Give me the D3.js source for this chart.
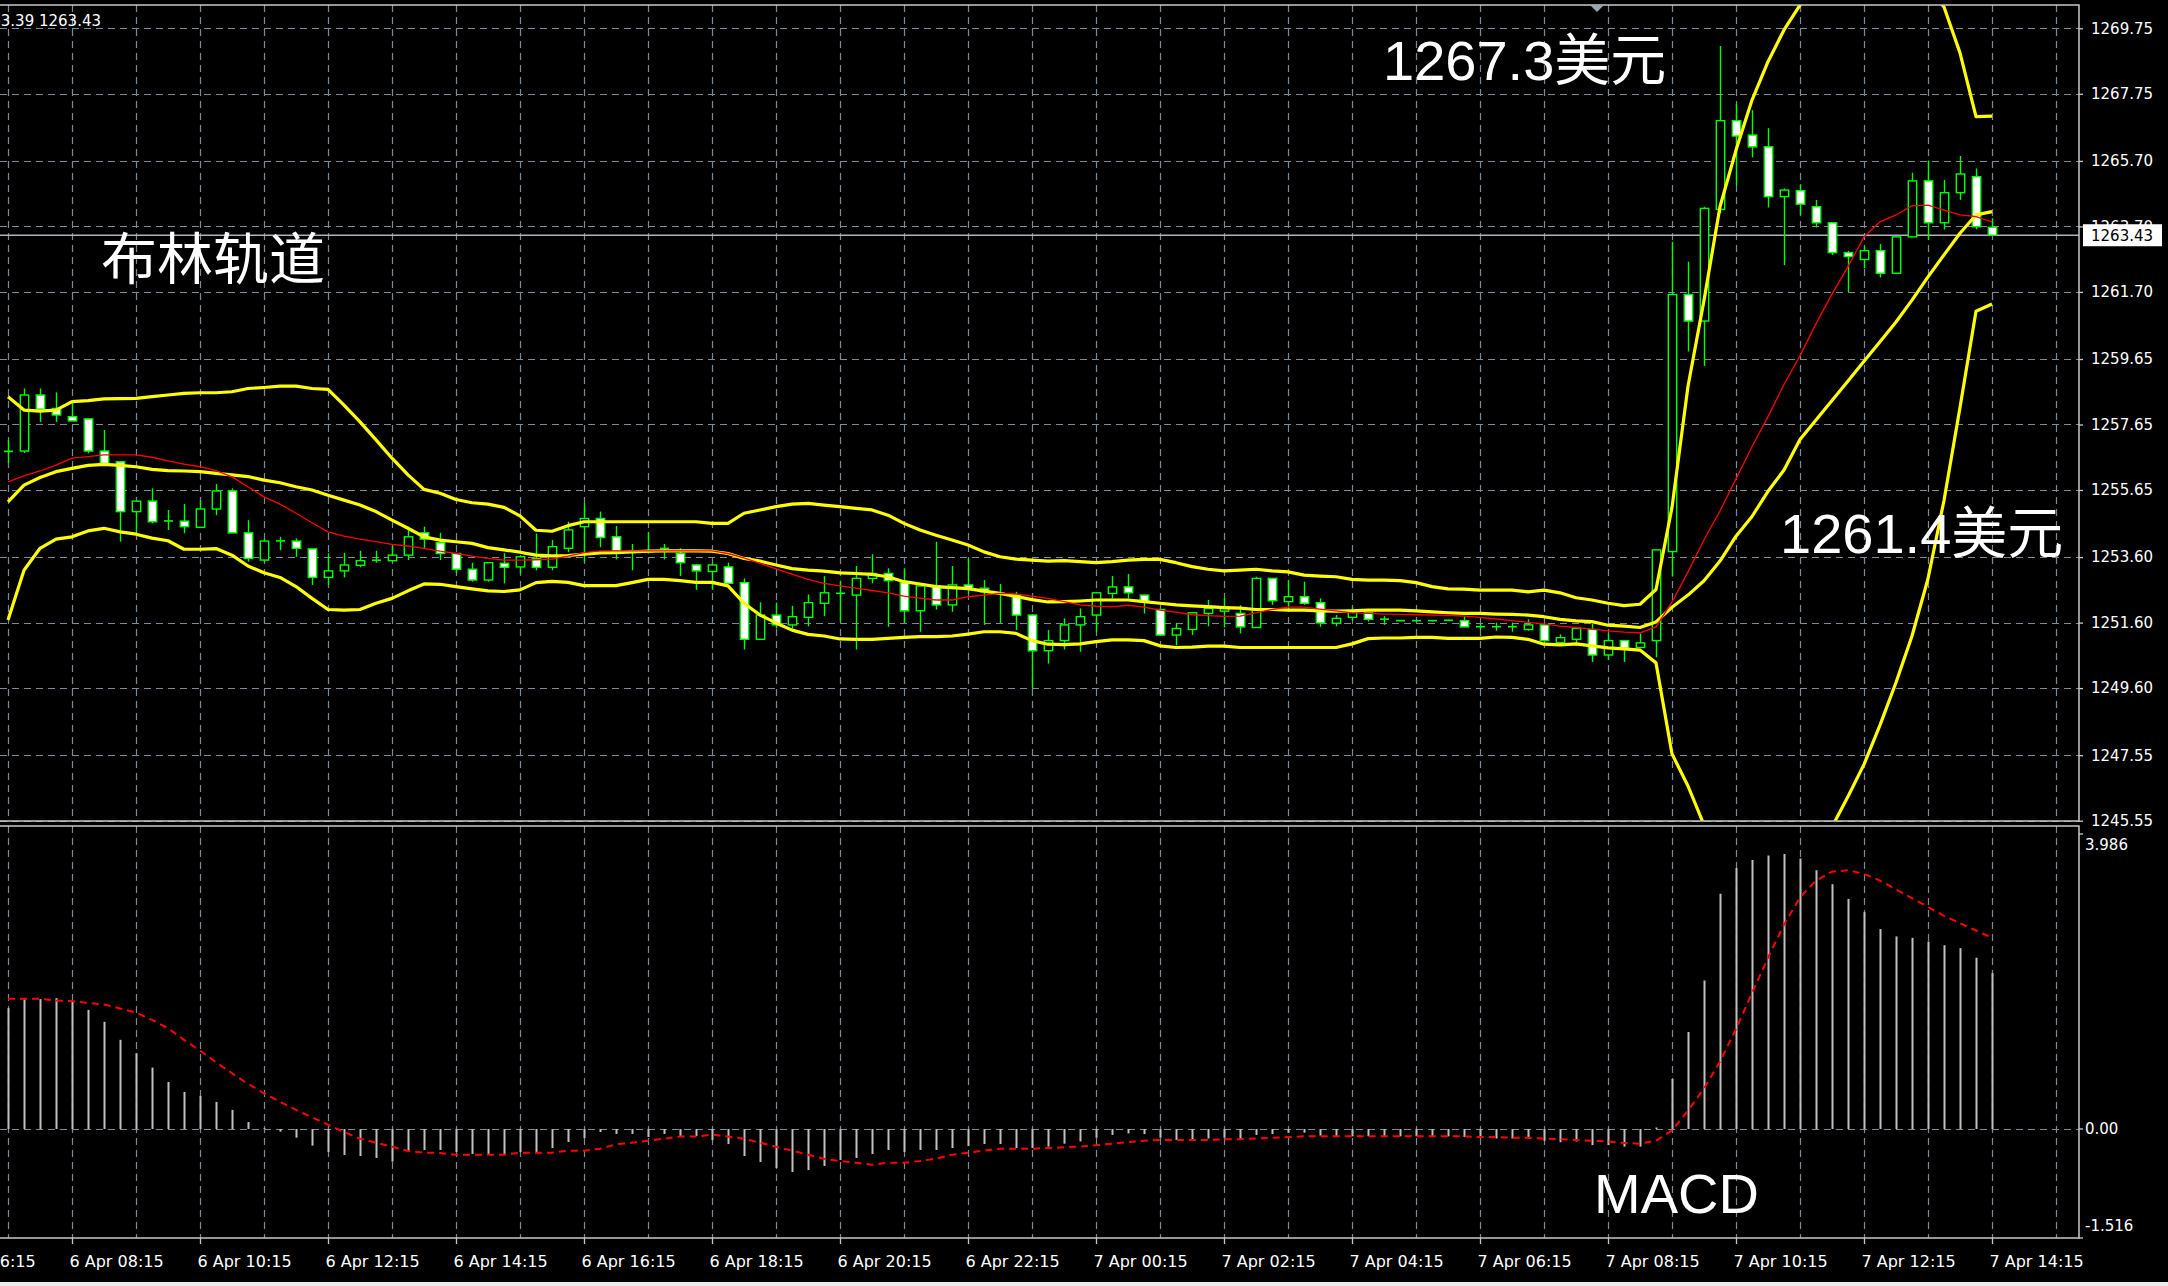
<!DOCTYPE html>
<html><head><meta charset="utf-8">
<script src="https://cdn.jsdelivr.net/npm/d3@7"></script>
<style>html,body{margin:0;padding:0;background:#000;overflow:hidden}</style>
</head><body>
<svg id="c" width="2168" height="1286"></svg>
<script>
// ---------------- DATA (XAUUSD M15, 6 Apr 07:15 .. 7 Apr 14:15) ----------------
const openP = [
1256.82,1256.84,1258.55,1258.14,1257.89,1257.82,1256.84,1256.51,1254.99,1255.31,
1254.70,1254.70,1254.51,1255.07,1255.62,1254.34,1253.51,1254.09,1254.09,1253.85,
1252.98,1253.18,1253.35,1253.50,1253.49,1253.66,1254.34,1254.04,1253.71,1253.23,
1252.90,1253.41,1253.30,1253.56,1253.29,1253.87,1254.53,1254.78,1254.22,1253.79,
1253.76,1253.85,1253.71,1253.36,1253.16,1253.30,1252.82,1251.09,1251.83,1251.53,
1251.76,1252.19,1252.49,1252.44,1252.95,1253.10,1252.82,1251.96,1252.72,1252.14,
1252.75,1252.65,1252.49,1252.44,1251.83,1250.74,1251.05,1251.53,1251.83,1252.49,
1252.69,1252.44,1252.00,1251.22,1251.39,1251.88,1251.95,1251.88,1251.45,1252.95,
1252.24,1252.39,1252.21,1251.58,1251.76,1251.90,1251.70,1251.66,1251.66,1251.66,
1251.67,1251.66,1251.47,1251.47,1251.47,1251.39,1251.53,1250.99,1251.09,1251.39,
1250.61,1251.05,1250.84,1251.05,1253.77,1261.62,1260.81,1264.22,1266.93,1266.49,
1266.13,1264.61,1264.79,1264.30,1263.81,1262.90,1262.69,1262.96,1262.27,1263.38,
1265.09,1263.81,1264.73,1265.22,1263.67];
const highP = [
1257.18,1258.75,1258.75,1258.63,1258.30,1257.82,1257.48,1256.51,1255.31,1255.70,
1255.04,1255.22,1255.34,1255.83,1255.70,1254.73,1254.15,1254.22,1254.17,1253.85,
1253.72,1253.73,1253.79,1253.79,1253.94,1254.53,1254.53,1254.34,1253.71,1253.43,
1253.43,1253.72,1253.66,1254.32,1254.12,1254.68,1255.24,1254.99,1254.55,1254.00,
1254.37,1254.00,1253.87,1253.39,1253.41,1253.43,1252.95,1252.22,1252.21,1252.11,
1252.46,1253.02,1252.88,1253.33,1253.69,1253.26,1253.26,1252.72,1254.07,1253.33,
1253.56,1252.90,1252.78,1252.54,1251.86,1251.37,1251.73,1252.03,1252.54,1253.02,
1253.08,1252.44,1252.00,1251.59,1251.90,1252.29,1252.35,1252.13,1253.00,1252.95,
1252.90,1252.85,1252.34,1251.83,1252.07,1251.90,1251.80,1251.68,1251.68,1251.68,
1251.69,1251.78,1251.58,1251.60,1251.60,1251.70,1251.56,1251.24,1251.45,1251.56,
1251.27,1251.05,1251.27,1253.82,1263.23,1262.62,1264.30,1269.21,1267.44,1267.25,
1266.70,1264.86,1264.99,1264.51,1263.81,1262.95,1263.08,1263.16,1263.38,1265.34,
1265.71,1265.12,1265.85,1265.47,1263.95];
const lowP = [
1256.47,1256.78,1257.73,1257.73,1257.76,1256.77,1256.46,1254.07,1254.33,1254.63,
1254.43,1254.33,1254.51,1254.88,1254.34,1253.46,1253.46,1253.81,1253.61,1252.75,
1252.75,1252.98,1253.29,1253.43,1253.49,1253.51,1253.87,1253.51,1253.10,1252.85,
1252.85,1252.80,1253.10,1253.20,1253.20,1253.76,1253.46,1253.90,1253.53,1253.20,
1253.71,1253.53,1253.02,1252.60,1252.60,1252.80,1250.78,1251.09,1251.42,1251.42,
1251.49,1251.80,1251.63,1250.78,1252.80,1251.47,1251.59,1251.32,1252.00,1251.93,
1252.49,1251.53,1251.59,1251.37,1249.59,1250.35,1250.78,1250.71,1251.32,1252.34,
1252.34,1251.88,1251.22,1250.90,1251.22,1251.49,1251.45,1251.27,1251.45,1252.14,
1252.11,1252.14,1251.47,1251.49,1251.66,1251.63,1251.53,1251.64,1251.64,1251.64,
1251.65,1251.47,1251.37,1251.35,1251.32,1251.35,1251.05,1250.94,1250.90,1250.40,
1250.46,1250.40,1250.82,1250.54,1253.01,1259.88,1259.44,1264.10,1264.96,1265.81,
1264.28,1262.52,1264.05,1263.67,1262.83,1261.70,1262.42,1262.14,1262.27,1263.38,
1263.30,1263.61,1264.51,1263.61,1263.41];
const closeP = [
1256.84,1258.55,1258.12,1257.94,1257.76,1256.84,1256.46,1254.99,1255.31,1254.68,
1254.71,1254.53,1255.07,1255.62,1254.34,1253.56,1254.09,1254.10,1253.87,1252.98,
1253.18,1253.36,1253.49,1253.51,1253.66,1254.22,1254.15,1253.71,1253.23,1252.90,
1253.43,1253.29,1253.61,1253.29,1253.92,1254.43,1254.78,1254.20,1253.79,1253.80,
1253.77,1253.88,1253.43,1253.18,1253.36,1252.80,1251.09,1251.83,1251.53,1251.78,
1252.21,1252.51,1252.50,1252.95,1253.10,1252.88,1251.96,1252.72,1252.14,1252.75,
1252.62,1252.54,1252.50,1251.83,1250.74,1251.05,1251.53,1251.78,1252.51,1252.69,
1252.51,1252.24,1251.22,1251.42,1251.90,1252.03,1252.03,1251.47,1252.95,1252.27,
1252.39,1252.19,1251.59,1251.73,1251.93,1251.70,1251.71,1251.66,1251.66,1251.66,
1251.67,1251.47,1251.48,1251.48,1251.48,1251.53,1251.05,1251.14,1251.42,1250.61,
1251.05,1250.82,1250.98,1253.82,1261.62,1260.81,1264.25,1266.93,1266.46,1266.13,
1264.61,1264.81,1264.38,1263.81,1262.90,1262.78,1262.96,1262.27,1263.38,1265.09,
1263.81,1264.73,1265.30,1263.69,1263.43];

const bbUpper = [
1258.50,1258.09,1258.06,1258.09,1258.35,1258.38,1258.43,1258.44,1258.45,1258.50,
1258.55,1258.60,1258.62,1258.62,1258.65,1258.75,1258.78,1258.82,1258.82,1258.75,
1258.72,1258.24,1257.73,1257.18,1256.62,1256.11,1255.67,1255.55,1255.36,1255.26,
1255.22,1255.12,1254.86,1254.42,1254.39,1254.56,1254.68,1254.68,1254.68,1254.68,
1254.68,1254.68,1254.68,1254.68,1254.63,1254.63,1254.94,1255.04,1255.14,1255.22,
1255.24,1255.19,1255.14,1255.09,1255.04,1254.88,1254.63,1254.43,1254.27,1254.12,
1253.97,1253.76,1253.61,1253.54,1253.51,1253.48,1253.49,1253.46,1253.43,1253.46,
1253.51,1253.53,1253.53,1253.43,1253.31,1253.23,1253.18,1253.20,1253.23,1253.18,
1253.15,1253.05,1253.02,1253.00,1252.92,1252.90,1252.90,1252.88,1252.82,1252.70,
1252.63,1252.62,1252.59,1252.59,1252.59,1252.54,1252.59,1252.51,1252.36,1252.29,
1252.19,1252.12,1252.16,1252.61,1255.12,1258.82,1261.44,1264.30,1266.03,1267.56,
1268.73,1269.70,1270.46,1271.10,1271.60,1272.00,1272.20,1272.20,1272.00,1271.60,
1271.00,1270.40,1269.00,1267.05,1267.07];
const bbMiddle = [
1255.29,1255.80,1256.03,1256.21,1256.31,1256.40,1256.43,1256.40,1256.36,1256.28,
1256.24,1256.23,1256.21,1256.16,1256.11,1256.06,1255.95,1255.87,1255.75,1255.65,
1255.49,1255.34,1255.19,1254.99,1254.73,1254.48,1254.22,1254.12,1254.07,1254.02,
1253.89,1253.82,1253.75,1253.66,1253.64,1253.65,1253.69,1253.73,1253.74,1253.76,
1253.78,1253.79,1253.79,1253.79,1253.78,1253.71,1253.56,1253.48,1253.36,1253.25,
1253.20,1253.17,1253.12,1253.10,1253.07,1253.00,1252.85,1252.78,1252.70,1252.67,
1252.64,1252.56,1252.49,1252.40,1252.30,1252.23,1252.24,1252.26,1252.29,1252.29,
1252.29,1252.24,1252.19,1252.14,1252.11,1252.09,1252.06,1252.04,1252.00,1252.00,
1251.98,1251.98,1251.96,1251.95,1251.96,1251.98,1251.98,1251.98,1251.96,1251.93,
1251.90,1251.88,1251.88,1251.86,1251.85,1251.83,1251.78,1251.70,1251.65,1251.63,
1251.52,1251.49,1251.45,1251.62,1252.07,1252.44,1252.88,1253.48,1254.24,1254.84,
1255.61,1256.26,1257.19,1257.79,1258.38,1258.98,1259.58,1260.18,1260.78,1261.45,
1262.16,1262.83,1263.49,1264.05,1264.15];
const bbLower = [
1251.68,1253.20,1253.87,1254.15,1254.22,1254.40,1254.48,1254.37,1254.30,1254.18,
1254.10,1253.84,1253.84,1253.86,1253.66,1253.33,1253.12,1252.98,1252.70,1252.34,
1252.00,1251.98,1252.00,1252.19,1252.34,1252.57,1252.78,1252.77,1252.70,1252.63,
1252.57,1252.55,1252.60,1252.82,1252.86,1252.83,1252.73,1252.73,1252.73,1252.82,
1252.92,1252.92,1252.88,1252.83,1252.83,1252.72,1252.19,1251.83,1251.59,1251.37,
1251.24,1251.19,1251.10,1251.09,1251.09,1251.12,1251.15,1251.17,1251.17,1251.19,
1251.25,1251.32,1251.32,1251.27,1251.05,1250.94,1250.93,1250.95,1251.02,1251.07,
1251.07,1251.05,1250.89,1250.84,1250.85,1250.88,1250.88,1250.84,1250.84,1250.84,
1250.84,1250.84,1250.84,1250.84,1250.95,1251.11,1251.13,1251.13,1251.15,1251.15,
1251.12,1251.12,1251.12,1251.16,1251.15,1251.09,1250.94,1250.92,1250.95,1250.89,
1250.83,1250.80,1250.76,1250.37,1247.59,1246.61,1245.42,1244.50,1243.80,1243.30,
1243.00,1243.00,1243.30,1244.20,1245.36,1246.29,1247.27,1248.47,1249.77,1251.19,
1252.94,1255.33,1258.17,1261.11,1261.33];
const maRed = [
1255.90,1256.08,1256.23,1256.41,1256.62,1256.67,1256.72,1256.72,1256.72,1256.65,
1256.54,1256.44,1256.36,1256.24,1256.05,1255.75,1255.44,1255.22,1254.94,1254.65,
1254.37,1254.24,1254.15,1254.07,1253.99,1253.94,1253.87,1253.78,1253.71,1253.63,
1253.56,1253.51,1253.51,1253.52,1253.54,1253.63,1253.74,1253.79,1253.79,1253.79,
1253.79,1253.79,1253.79,1253.79,1253.79,1253.71,1253.58,1253.41,1253.24,1253.08,
1252.92,1252.80,1252.72,1252.65,1252.58,1252.51,1252.41,1252.35,1252.29,1252.29,
1252.39,1252.44,1252.49,1252.48,1252.41,1252.34,1252.24,1252.14,1252.10,1252.08,
1252.13,1252.07,1251.98,1251.92,1251.84,1251.81,1251.79,1251.80,1251.90,1252.00,
1252.07,1252.07,1252.01,1251.96,1251.90,1251.88,1251.86,1251.85,1251.84,1251.83,
1251.82,1251.80,1251.76,1251.71,1251.66,1251.61,1251.56,1251.49,1251.45,1251.40,
1251.35,1251.31,1251.29,1251.47,1252.23,1253.15,1254.13,1255.01,1255.99,1256.97,
1257.89,1258.87,1259.75,1260.73,1261.63,1262.47,1263.38,1263.84,1264.05,1264.33,
1264.35,1264.20,1264.05,1264.00,1263.84];

const macdHist = [
1.644,1.767,1.767,1.780,1.735,1.620,1.458,1.213,1.031,0.835,
0.640,0.504,0.450,0.368,0.259,0.095,0.010,-0.036,-0.118,-0.227,
-0.313,-0.354,-0.368,-0.395,-0.445,-0.295,-0.286,-0.286,-0.313,-0.340,
-0.340,-0.340,-0.313,-0.313,-0.259,-0.177,-0.123,-0.041,-0.068,-0.068,
-0.109,-0.068,-0.095,-0.095,-0.150,-0.204,-0.368,-0.450,-0.531,-0.586,
-0.559,-0.504,-0.422,-0.395,-0.340,-0.286,-0.313,-0.286,-0.286,-0.259,
-0.232,-0.204,-0.204,-0.259,-0.259,-0.240,-0.200,-0.170,-0.120,-0.080,
-0.060,-0.070,-0.120,-0.150,-0.150,-0.130,-0.120,-0.140,-0.080,-0.070,
-0.050,-0.050,-0.090,-0.100,-0.100,-0.100,-0.100,-0.100,-0.100,-0.100,
-0.100,-0.110,-0.120,-0.130,-0.130,-0.130,-0.160,-0.180,-0.170,-0.220,
-0.220,-0.240,-0.240,0.020,0.680,1.320,2.020,3.200,3.550,3.660,
3.720,3.740,3.680,3.520,3.330,3.130,2.950,2.720,2.620,2.600,
2.550,2.500,2.460,2.330,2.120];
const macdSignal = [
1.771,1.771,1.771,1.748,1.740,1.717,1.694,1.640,1.585,1.485,
1.372,1.213,1.067,0.908,0.758,0.613,0.486,0.372,0.259,0.159,
0.059,-0.041,-0.132,-0.186,-0.241,-0.300,-0.322,-0.327,-0.350,-0.350,
-0.350,-0.350,-0.322,-0.322,-0.322,-0.295,-0.295,-0.268,-0.209,-0.186,
-0.159,-0.132,-0.104,-0.104,-0.077,-0.104,-0.132,-0.186,-0.241,-0.295,
-0.350,-0.404,-0.436,-0.459,-0.486,-0.459,-0.459,-0.436,-0.404,-0.350,
-0.322,-0.295,-0.268,-0.268,-0.268,-0.260,-0.250,-0.240,-0.220,-0.200,
-0.180,-0.160,-0.150,-0.150,-0.150,-0.150,-0.140,-0.140,-0.130,-0.120,
-0.110,-0.100,-0.100,-0.100,-0.100,-0.100,-0.100,-0.100,-0.100,-0.100,
-0.100,-0.100,-0.110,-0.110,-0.120,-0.120,-0.130,-0.140,-0.150,-0.160,
-0.170,-0.190,-0.200,-0.160,-0.020,0.250,0.550,0.920,1.360,1.850,
2.330,2.780,3.150,3.380,3.500,3.520,3.470,3.380,3.260,3.140,
3.020,2.900,2.800,2.700,2.600];

const priceTickLabels = ["1269.75","1267.75","1265.70","1263.70","1261.70","1259.65","1257.65",
  "1255.65","1253.60","1251.60","1249.60","1247.55","1245.55"];
const macdTickLabels = ["3.986","0.00","-1.516"];
const macdTickValues = [3.986, 0, -1.516];
const timeTickIndex = [-4,4,12,20,28,36,44,52,60,68,76,84,92,100,108,116,124];
const timeTickLabels = ["6 Apr 06:15","6 Apr 08:15","6 Apr 10:15","6 Apr 12:15","6 Apr 14:15",
  "6 Apr 16:15","6 Apr 18:15","6 Apr 20:15","6 Apr 22:15","7 Apr 00:15","7 Apr 02:15",
  "7 Apr 04:15","7 Apr 06:15","7 Apr 08:15","7 Apr 10:15","7 Apr 12:15","7 Apr 14:15"];
const lastBid = 1263.43;
const headerText = "1263.39 1263.43";
const notes = [
  {text:"1267.3美元", px:1383, py:80},
  {text:"布林轨道", px:101, py:279},
  {text:"1261.4美元", px:1780, py:553},
  {text:"MACD", px:1594, py:1213}
];

// ---------------- DRAW ----------------
const W=2168,H=1286;
const plotR=2079, pTop=5, pBot=821, mTop=826, mBot=1238;
const svg=d3.select('#c');
svg.append('rect').attr('width',W).attr('height',H).attr('fill','#000');

const N = closeP.length;
const x = d3.scaleLinear().domain([0,124]).range([8,1992]);
const y = d3.scaleLinear().domain([1245.55,1269.75]).range([820.7,28.3]);
const ym = d3.scaleLinear().domain([-1.516,3.986]).range([1240.4,836]);

const defs = svg.append('defs');
defs.append('clipPath').attr('id','cp').append('rect').attr('x',0).attr('y',pTop).attr('width',plotR).attr('height',pBot-pTop);
defs.append('clipPath').attr('id','cm').append('rect').attr('x',0).attr('y',mTop).attr('width',plotR).attr('height',mBot-mTop);

const gridCol = '#7d8b99';
const dash = '7,5';
// vertical grid
const gIdx = d3.range(0,129,4);
const grid = svg.append('g').attr('stroke',gridCol).attr('stroke-width',1.2).attr('stroke-dasharray',dash);
gIdx.forEach(i=>{
  const gx = Math.round(x(i))+0.5;
  grid.append('line').attr('x1',gx).attr('x2',gx).attr('y1',pTop).attr('y2',pBot);
  grid.append('line').attr('x1',gx).attr('x2',gx).attr('y1',mTop).attr('y2',mBot);
});
priceTickLabels.forEach(t=>{
  const gy = Math.round(y(+t))+0.5;
  grid.append('line').attr('x1',0).attr('x2',plotR).attr('y1',gy).attr('y2',gy);
});
grid.append('line').attr('x1',0).attr('x2',plotR).attr('y1',Math.round(ym(0))+0.5).attr('y2',Math.round(ym(0))+0.5);

// bid line
const by = y(lastBid);
svg.append('line').attr('x1',0).attr('x2',plotR).attr('y1',by).attr('y2',by).attr('stroke','#aab4be').attr('stroke-width',1.3);

// candles
const pg = svg.append('g').attr('clip-path','url(#cp)');
const green='#00ff00';
const cg = pg.append('g');
for(let i=0;i<N;i++){
  const cx = Math.round(x(i))+0.5;
  cg.append('line').attr('x1',cx).attr('x2',cx).attr('y1',y(highP[i])).attr('y2',y(lowP[i]))
    .attr('stroke',green).attr('stroke-width',1.4);
  const o=openP[i], c=closeP[i];
  const top=y(Math.max(o,c)), bot=y(Math.min(o,c));
  if (bot-top < 1.2){
    cg.append('line').attr('x1',cx-4.5).attr('x2',cx+4.5).attr('y1',(top+bot)/2).attr('y2',(top+bot)/2)
      .attr('stroke',green).attr('stroke-width',1.6);
  } else {
    cg.append('rect').attr('x',cx-4.2).attr('y',top).attr('width',8.4).attr('height',bot-top)
      .attr('fill', c>o ? '#000' : '#fff').attr('stroke',green).attr('stroke-width',1.4);
  }
}
const line = d3.line().x((d,i)=>x(i)).y(d=>y(d));
[bbUpper,bbMiddle,bbLower].forEach(s=>{
  pg.append('path').attr('d',line(s)).attr('fill','none').attr('stroke','#ffff00').attr('stroke-width',3.2).attr('stroke-linejoin','round');
});
pg.append('path').attr('d',line(maRed)).attr('fill','none').attr('stroke','#ff0000').attr('stroke-width',1.3);

// MACD
const mg = svg.append('g').attr('clip-path','url(#cm)');
macdHist.forEach((v,i)=>{
  const cx = Math.round(x(i))+0.5;
  mg.append('line').attr('x1',cx).attr('x2',cx).attr('y1',ym(0)).attr('y2',ym(v)).attr('stroke','#c0c0c0').attr('stroke-width',2);
});
const mline = d3.line().x((d,i)=>x(i)).y(d=>ym(d));
mg.append('path').attr('d',mline(macdSignal)).attr('fill','none').attr('stroke','#ff0000').attr('stroke-width',2).attr('stroke-dasharray','7,5');

// frames
const fr = svg.append('g').attr('stroke','#c8c8c8').attr('stroke-width',1.5).attr('fill','none');
fr.append('path').attr('d',`M0,${pTop}H${plotR}V${pBot}H0`);
fr.append('path').attr('d',`M0,${mTop}H${plotR}V${mBot}H0`);

// price axis
const fontAx = "'DejaVu Sans', 'Liberation Sans', sans-serif";
const ax = svg.append('g').attr('transform',`translate(${plotR},0)`)
  .call(d3.axisRight(y).tickValues(priceTickLabels.map(Number)).tickFormat(d3.format('.2f')).tickSize(4).tickPadding(8));
ax.select('.domain').remove();
ax.selectAll('line').attr('stroke','#c8c8c8').attr('stroke-width',1.3);
ax.selectAll('text').attr('fill','#fff').attr('font-family',fontAx).attr('font-size',15);

// bid label
svg.append('rect').attr('x',2083).attr('y',by-11).attr('width',79).attr('height',22).attr('fill','#fff');
svg.append('text').attr('x',2091).attr('y',by).attr('dy','0.36em').attr('fill','#000')
  .attr('font-family',fontAx).attr('font-size',15).text(d3.format('.2f')(lastBid));

// macd axis
const mOff=[11,0,-12];
macdTickValues.forEach((v,k)=>{
  const ty = k===0?834:(k===2?1238:ym(v));
  svg.append('line').attr('x1',plotR).attr('x2',plotR+4).attr('y1',ty).attr('y2',ty).attr('stroke','#c8c8c8').attr('stroke-width',1.3);
  svg.append('text').attr('x',2085).attr('y',ty+mOff[k]).attr('dy','0.36em').attr('fill','#fff')
    .attr('font-family',fontAx).attr('font-size',15).text(macdTickLabels[k]);
});

// time axis
const tx = svg.append('g').attr('transform',`translate(0,${mBot})`)
  .call(d3.axisBottom(x).tickValues(timeTickIndex).tickFormat((d,i)=>timeTickLabels[i]).tickSize(6).tickPadding(9));
tx.select('.domain').remove();
tx.selectAll('line').attr('stroke','#c8c8c8').attr('stroke-width',1.3);
tx.selectAll('text').attr('fill','#fff').attr('font-family',fontAx).attr('font-size',16)
  .attr('text-anchor','start').attr('dx',-3).attr('dy','0.9em');

// header text
svg.append('text').attr('x',101).attr('y',26).attr('text-anchor','end').attr('fill','#fff')
  .attr('font-family',fontAx).attr('font-size',15).text(headerText);
// shift marker
svg.append('path').attr('d','M1590,5L1604,5L1597,12Z').attr('fill','#9aa4ae');

// annotations
notes.forEach(n=>{
  svg.append('text').attr('x',n.px).attr('y',n.py).attr('fill','#fff')
    .attr('font-family',"'Liberation Sans', Arial, 'Noto Sans CJK SC', sans-serif")
    .attr('font-size',56).text(n.text);
});

// bottom status strip
svg.append('rect').attr('x',0).attr('y',1282).attr('width',W).attr('height',4).attr('fill','#ececec');
</script>
</body></html>
